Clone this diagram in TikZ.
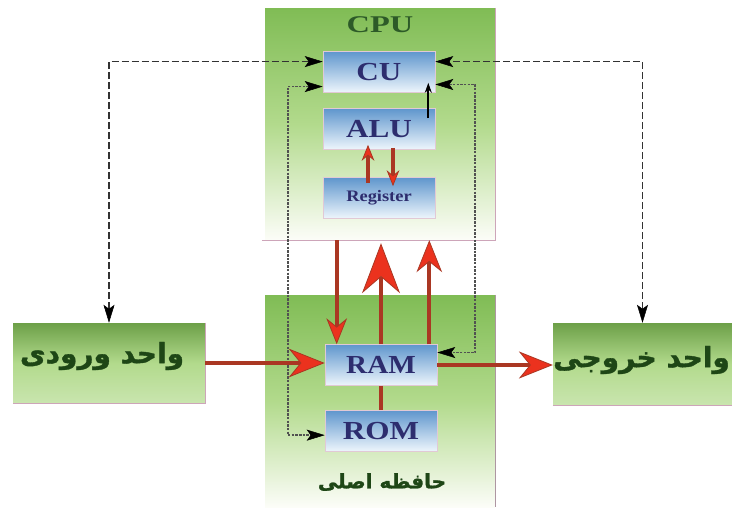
\documentclass[tikz,border=0pt]{standalone}
\usepackage{fontspec}
\setmainfont{Liberation Serif}
\newfontfamily\farsi[Script=Arabic, BoldFeatures={FakeBold=1.2}]{DejaVu Sans}
\TeXXeTstate=1
\usetikzlibrary{arrows.meta,calc}
\definecolor{gtop}{RGB}{128,188,85}
\definecolor{gmid}{RGB}{178,218,140}
\definecolor{gbot}{RGB}{252,253,248}
\definecolor{btop}{RGB}{95,150,205}
\definecolor{bbot}{RGB}{238,246,252}
\definecolor{navy}{RGB}{45,45,110}
\definecolor{dgreen}{RGB}{30,70,22}
\definecolor{cpugreen}{RGB}{45,90,40}
\definecolor{shaft}{RGB}{170,55,35}
\definecolor{redhead}{RGB}{235,50,30}
\definecolor{bord}{RGB}{205,165,185}
\definecolor{dashc}{RGB}{50,50,50}
\tikzset{
  greenbox/.style={inner sep=0pt, top color=gtop, bottom color=gbot, middle color=gmid},
  unitbox/.style={inner sep=0pt, top color=gtop!85!black, bottom color=gmid!70!white, middle color=gmid},
  bluebox/.style={inner sep=0pt, minimum width=112pt, minimum height=41pt, top color=btop, bottom color=bbot, draw=bord!60!white, line width=0.6pt},
  bigtext/.style={text=navy, font=\fontsize{26}{26}\selectfont\bfseries},
  borderline/.style={draw=bord, line width=1.2pt},
  ctip/.tip={Stealth[length=18pt,width=11pt,inset=4pt,color=black,line width=0.5pt]},
  dline/.style={draw=dashc, line width=1.6pt, dash pattern=on 7pt off 3pt, ctip-ctip},
  dotline/.style={draw=dashc!85!white, line width=1.8pt, dash pattern=on 2.5pt off 1.2pt, ctip-ctip},
  redarr/.style={draw=shaft, line width=4pt, -{Stealth[length=#1, width=0.8*#1, fill=redhead, line width=0.8pt]}},
  redarr/.default=24pt,
  farsilbl/.style={text=dgreen, font=\farsi\bfseries\fontsize{28}{28}\selectfont}
}
\begin{document}
\begin{tikzpicture}[x=1pt,y=-1pt]
\useasboundingbox (0,0) rectangle (732,507);
\fill[white] (0,0) rectangle (732,507);
% containers
\node[greenbox, minimum width=230pt, minimum height=232pt] (cpu) at (380,124) {};
\node[greenbox, minimum width=230pt, minimum height=212pt] (mem) at (380,401) {};
\node[unitbox, minimum width=192pt, minimum height=80pt] (inp) at (109,363) {};
\node[unitbox, minimum width=187pt, minimum height=82pt] (out) at (646.5,364) {};
\draw[borderline] ([xshift=-3pt]cpu.south west) -- (cpu.south east) -- (cpu.north east);
\draw[borderline, draw=bord!60!gray] (mem.north east) -- (mem.south east);
\draw[borderline] (inp.north east) -- (inp.south east) -- (inp.south west);
\draw[borderline] (out.south west) -- (out.south east);
% labels
\node[text=cpugreen, font=\fontsize{24}{24}\selectfont\bfseries] (cpulbl) at (380,25) {\scalebox{1.35}[1]{CPU}};
\node[farsilbl, font=\farsi\bfseries\fontsize{20}{20}\selectfont] (memlbl) at (382,482) {\beginR حافظه اصلی\endR};
\node[farsilbl] (inplbl) at (102,356) {\beginR واحد ورودی\endR};
\node[farsilbl, anchor=east, inner sep=1pt] (outlbl) at (731,360) {\beginR واحد خروجی\endR};
% blue boxes
\node[bluebox, bigtext] (cu) at (379,72) {\scalebox{1.2}[1]{CU}};
\node[bluebox, bigtext] (alu) at (379,129) {\scalebox{1.2}[1]{ALU}};
\node[bluebox, text=navy, font=\fontsize{16}{16}\selectfont\bfseries] (reg) at (379,198) {\scalebox{1.15}[1]{Register}};
\node[bluebox, bigtext] (ram) at (381,365) {\scalebox{1.12}[1]{RAM}};
\node[bluebox, bigtext] (rom) at (381,431) {\scalebox{1.2}[1]{ROM}};
% dashed control lines
\draw[dline] (inp.north) |- ($(cu.north west)!0.25!(cu.south west)$);
\draw[dline] ([xshift=-4pt]out.north) |- ($(cu.north east)!0.25!(cu.south east)$);
\draw[dotline] ($(cu.north west)!0.85!(cu.south west)$) -- ++(-35,0) |- ($(rom.north west)!0.6!(rom.south west)$);
\draw[dotline] ($(cu.north east)!0.8!(cu.south east)$) -- ++(40,0) |- ($(ram.north east)!0.2!(ram.south east)$);
\draw[draw=black, line width=2pt, -{Stealth[length=10pt,width=7pt]}] ([xshift=-7pt,yshift=-10pt]alu.north east) -- ([xshift=-7pt,yshift=10pt]cu.south east);
% red data arrows
\draw[redarr=16pt] ([xshift=-11pt,yshift=-6pt]reg.north) -- ([xshift=-11pt,yshift=5pt]alu.south);
\draw[redarr=16pt] ([xshift=14pt,yshift=2pt]alu.south) -- ([xshift=14pt,yshift=-9pt]reg.north);
\draw[redarr=26pt] ([xshift=12pt]ram.north west |- cpu.south) -- ([xshift=12pt]ram.north west);
\draw[redarr=50pt, -{Stealth[length=50pt, width=38pt, fill=redhead, line width=0.8pt]}] (ram.north) -- ([yshift=-3pt]ram.north |- cpu.south);
\draw[redarr=32pt] ([xshift=-8pt]ram.north east) -- ([xshift=-8pt]ram.north east |- cpu.south);
\draw[draw=shaft, line width=4pt] (ram.south) -- (rom.north);
\draw[redarr=36pt] (inp.east) -- (inp.east -| ram.west);
\draw[redarr=34pt] (ram.east) -- (ram.east -| out.west);
\end{tikzpicture}
\end{document}
